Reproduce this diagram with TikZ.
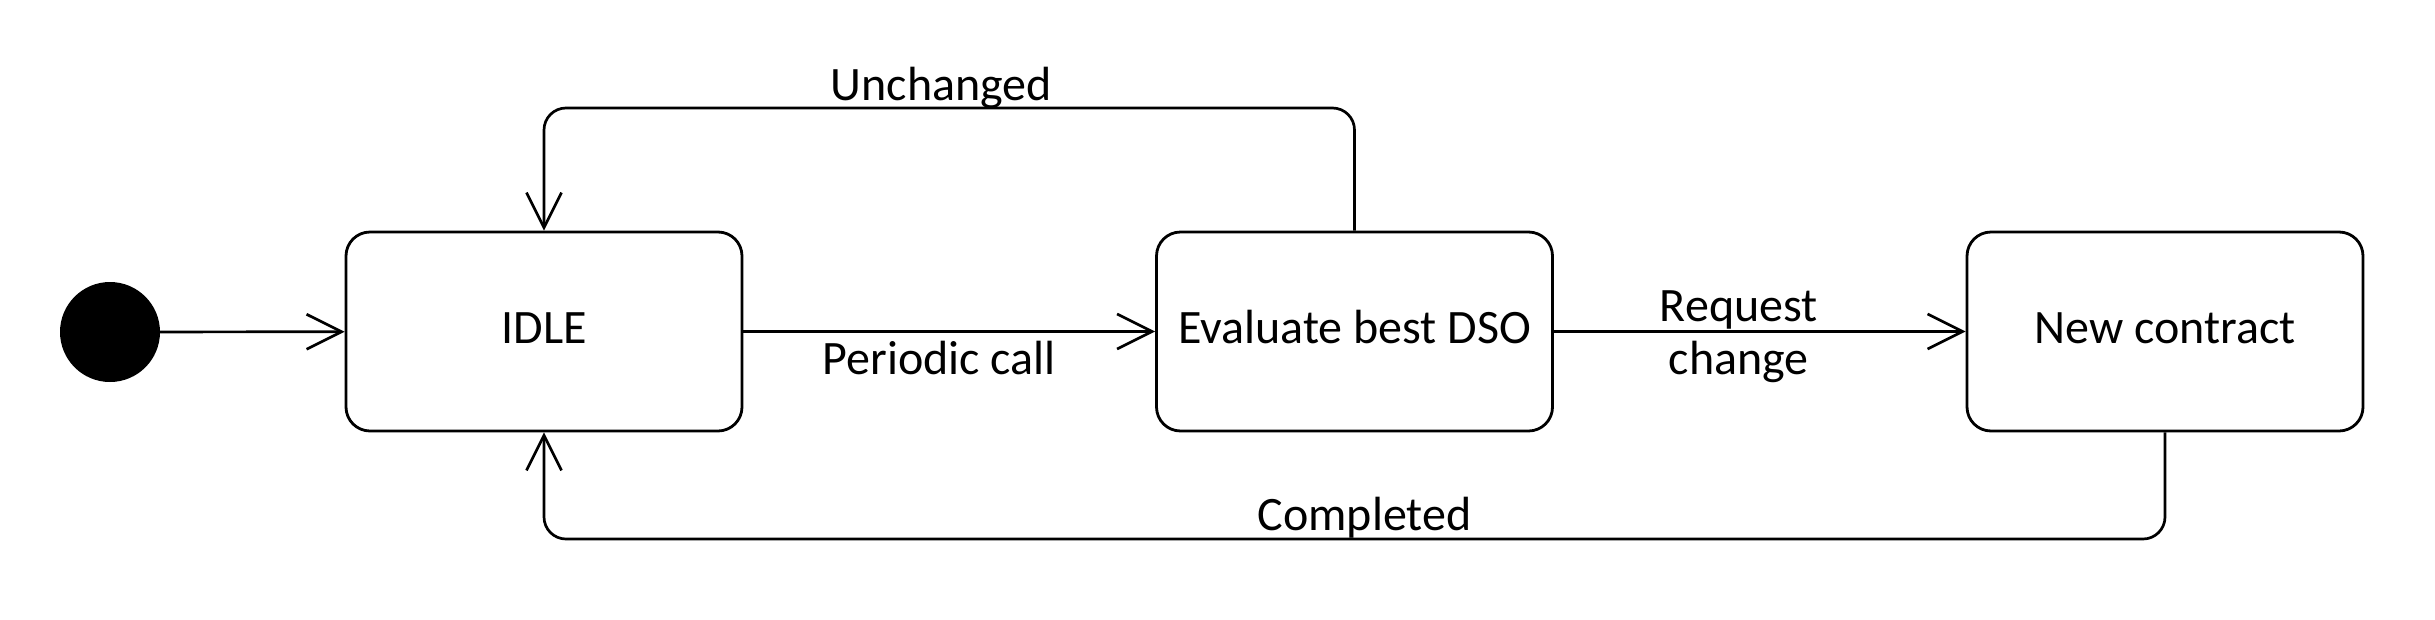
\documentclass[tikz,border=0pt]{standalone}
\usepackage{fontspec}
\setmainfont{Carlito}
\usetikzlibrary{arrows.meta}
\begin{document}
\begin{tikzpicture}[x=1pt,y=-1pt,
  statebox/.style={draw=black, line width=2.8pt, rounded corners=24pt,
    minimum width=396pt, minimum height=199pt, inner sep=0pt,
    font=\fontsize{48}{58}\selectfont, text height=31pt, text depth=8pt},
  initstate/.style={circle, fill=black, minimum size=100pt, inner sep=0pt},
  arr/.style={line width=2.7pt, -{Straight Barb[length=35pt,width=35pt,line width=2.7pt]}},
  lbl/.style={font=\fontsize{48}{53}\selectfont, inner sep=0pt}
]
\useasboundingbox (0,0) rectangle (2435,619);

\node[initstate] (init) at (110,332) {};
\node[statebox] (idle) at (544,331.5) {IDLE};
\node[statebox] (eval) at (1354.5,331.5) {Evaluate best DSO};
\node[statebox] (newc) at (2165,331.5) {New contract};

\coordinate (uR) at (1354.5,108);
\coordinate (uL) at (544,108);
\coordinate (cR) at (2165,539);
\coordinate (cL) at (544,539);

\draw[arr] (init) -- (idle);
\draw[arr] (idle) -- node[lbl, anchor=base, xshift=-10pt, yshift=-43pt] {Periodic call} (eval);
\draw[arr] (eval) -- node[lbl, align=center, anchor=base, xshift=-21pt, yshift=-43pt] {Request\\change} (newc);
\draw[arr, rounded corners=22pt] (eval.north) -- (uR) -- node[lbl, anchor=base, xshift=-8pt, yshift=8pt] {Unchanged} (uL) -- (idle.north);
\draw[arr, rounded corners=22pt] (newc.south) -- (cR) -- node[lbl, anchor=base, xshift=10pt, yshift=9pt] {Completed} (cL) -- (idle.south);
\end{tikzpicture}
\end{document}
